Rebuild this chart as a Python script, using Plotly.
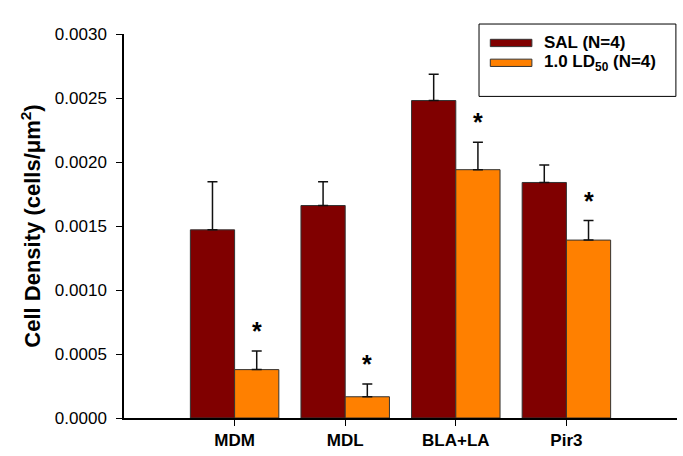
import plotly.graph_objects as go

categories = ["MDM", "MDL", "BLA+LA", "Pir3"]
series_names = ["SAL (N=4)", "1.0 LD<sub>50</sub> (N=4)"]
sal_values = [0.00147, 0.00166, 0.00248, 0.00184]
sal_errors = [0.000375, 0.000185, 0.000205, 0.000137]
ld50_values = [0.000378, 0.000166, 0.00194, 0.00139]
ld50_errors = [0.000145, 0.000100, 0.000214, 0.000152]
significant = [True, True, True, True]
y_ticks = [0.0, 0.0005, 0.0010, 0.0015, 0.0020, 0.0025, 0.0030]

SAL_COLOR = "#800000"
LD_COLOR = "#FF8000"
FONT = "Liberation Sans, Arial, sans-serif"

xpos = list(range(len(categories)))

fig = go.Figure()
for name, vals, errs, col in [
    (series_names[0], sal_values, sal_errors, SAL_COLOR),
    (series_names[1], ld50_values, ld50_errors, LD_COLOR),
]:
    fig.add_trace(go.Bar(
        x=xpos, y=vals, name=name,
        marker=dict(color=col, line=dict(color="#333333", width=1)),
        error_y=dict(type="data", symmetric=False, array=errs,
                     arrayminus=[0] * len(errs), color="#111111",
                     thickness=1.5, width=5),
        showlegend=False,
    ))

# significance stars above LD50 error bars
for i, (v, e, s) in enumerate(zip(ld50_values, ld50_errors, significant)):
    if s:
        fig.add_annotation(x=i + 0.2, y=v + e, xref="x", yref="y",
                           text="<b>*</b>", showarrow=False,
                           font=dict(size=25, color="black", family=FONT),
                           yanchor="bottom", yshift=4)

# custom legend
fig.add_shape(type="rect", xref="paper", yref="paper",
              x0=0.642, x1=0.998, y0=0.8375, y1=1.026,
              line=dict(color="black", width=1), fillcolor="white")
legend_rows = [(0.9767, SAL_COLOR), (0.925, LD_COLOR)]
for (yc, col), name in zip(legend_rows, series_names):
    fig.add_shape(type="rect", xref="paper", yref="paper",
                  x0=0.6624, x1=0.7376, y0=yc - 0.0095, y1=yc + 0.0095,
                  line=dict(color="#333333", width=1), fillcolor=col)
    fig.add_annotation(x=0.7553, y=yc, xref="paper", yref="paper",
                       text="<b>" + name + "</b>", showarrow=False,
                       xanchor="left", yanchor="middle",
                       font=dict(size=17, color="black", family=FONT))

fig.update_layout(
    width=683, height=456,
    margin=dict(l=124, r=6, t=34, b=34),
    plot_bgcolor="white", paper_bgcolor="white",
    barmode="group", bargap=0.2, bargroupgap=0,
    font=dict(family=FONT, color="black"),
)
fig.update_xaxes(
    range=[-1, 4], tickvals=xpos, ticktext=["<b>%s</b>" % c for c in categories],
    showline=True, linecolor="black", linewidth=1.5,
    ticks="outside", ticklen=6, tickwidth=1, tickcolor="black",
    showgrid=False, zeroline=False,
    tickfont=dict(size=17, family=FONT, color="black"),
)
fig.update_yaxes(
    range=[0, 0.003], tickvals=y_ticks, tickformat=".4f",
    showline=True, linecolor="black", linewidth=1.5,
    ticks="outside", ticklen=6, tickwidth=1, tickcolor="black",
    showgrid=False, zeroline=False,
    tickfont=dict(size=17, family=FONT, color="black"),
    ticklabelstandoff=6,
    title=dict(text="<b>Cell Density (cells/μm<sup>2</sup>)</b>",
               font=dict(size=22, family=FONT, color="black"), standoff=8),
)
fig.write_html("out.html", config={"displayModeBar": False},
               post_script="document.body.style.margin='0';")
